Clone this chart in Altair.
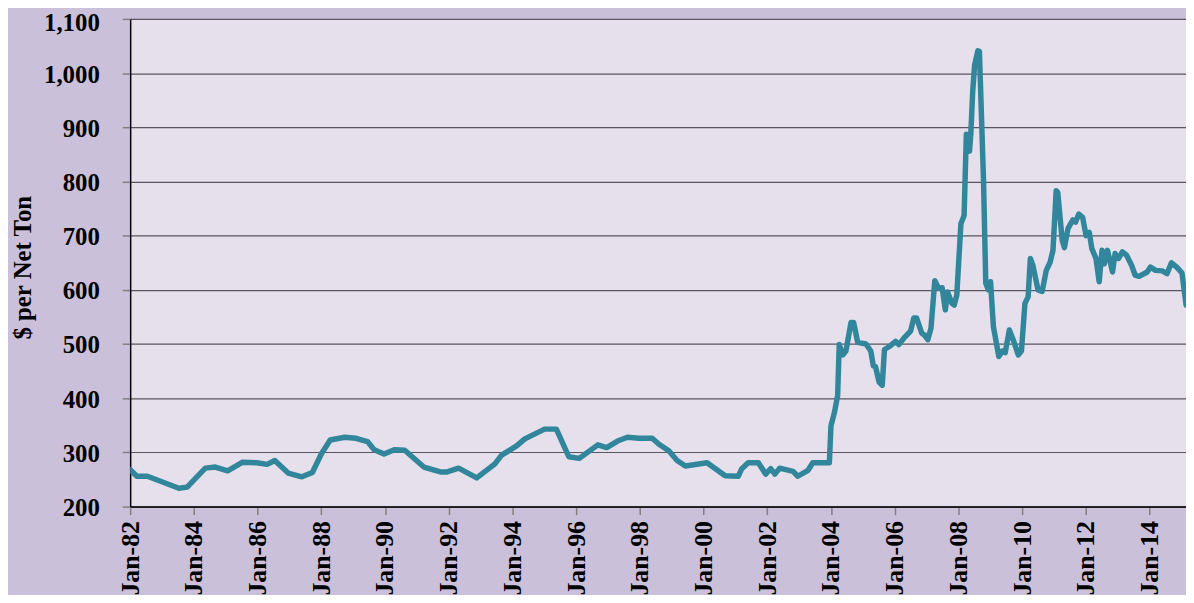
import altair as alt
import pandas as pd

# Decimal year of each vertex (position along the Jan-82 ... Jan-14 axis)
years = [
    1982.00, 1982.21, 1982.54, 1983.53, 1983.79, 1984.05, 1984.36, 1984.67, 1985.06, 1985.53,
    1985.97, 1986.30, 1986.54, 1986.96, 1987.39, 1987.72, 1988.00, 1988.28, 1988.73, 1989.09,
    1989.45, 1989.66, 1989.97, 1990.29, 1990.62, 1991.22, 1991.74, 1991.95, 1992.31, 1992.88,
    1993.45, 1993.66, 1994.13, 1994.39, 1995.01, 1995.38, 1995.77, 1996.10, 1996.68, 1996.96,
    1997.30, 1997.61, 1997.97, 1998.39, 1998.60, 1998.91, 1999.17, 1999.43, 2000.11, 2000.68,
    2001.09, 2001.20, 2001.40, 2001.72, 2001.95, 2002.11, 2002.24, 2002.39, 2002.81, 2002.96,
    2003.28, 2003.43, 2003.95, 2004.00, 2004.11, 2004.21, 2004.26, 2004.37, 2004.47, 2004.63,
    2004.71, 2004.84, 2005.10, 2005.25, 2005.33, 2005.40, 2005.51, 2005.61, 2005.68, 2005.82,
    2006.03, 2006.13, 2006.29, 2006.50, 2006.60, 2006.69, 2006.85, 2006.93, 2007.04, 2007.14,
    2007.26, 2007.38, 2007.49, 2007.59, 2007.66, 2007.80, 2007.87, 2007.95, 2008.08, 2008.18,
    2008.25, 2008.35, 2008.39, 2008.45, 2008.51, 2008.61, 2008.66, 2008.79, 2008.86, 2008.94,
    2009.01, 2009.10, 2009.27, 2009.38, 2009.47, 2009.60, 2009.72, 2009.88, 2009.98, 2010.09,
    2010.19, 2010.26, 2010.34, 2010.50, 2010.63, 2010.76, 2010.88, 2010.97, 2011.07, 2011.12,
    2011.26, 2011.33, 2011.44, 2011.59, 2011.68, 2011.78, 2011.90, 2012.01, 2012.11, 2012.19,
    2012.32, 2012.42, 2012.51, 2012.58, 2012.68, 2012.84, 2012.92, 2013.03, 2013.15, 2013.28,
    2013.44, 2013.55, 2013.67, 2013.93, 2014.03, 2014.19, 2014.40, 2014.55, 2014.69, 2014.87,
    2015.02, 2015.15,
]

# $ per net ton
prices = [
    268, 256, 256, 234, 236, 252, 271, 273, 266, 282,
    281, 278, 285, 262, 255, 263, 297, 323, 328, 326,
    320, 305, 297, 305, 304, 273, 264, 264, 271, 253,
    279, 295, 312, 325, 343, 343, 292, 289, 314, 309,
    321, 328, 326, 326, 315, 303, 285, 275, 281, 257,
    256, 270, 281, 281, 260, 270, 260, 271, 265, 256,
    267, 281, 281, 349, 374, 405, 499, 480, 487, 540,
    540, 503, 500, 487, 460, 458, 430, 424, 490, 495,
    505, 499, 511, 524, 548, 548, 520, 517, 508, 529,
    617, 603, 604, 563, 596, 575, 572, 590, 722, 737,
    887, 856, 887, 966, 1015, 1041, 1040, 801, 612, 600,
    615, 532, 477, 487, 484, 526, 508, 480, 487, 575,
    587, 658, 645, 600, 597, 636, 651, 673, 783, 780,
    691, 678, 713, 729, 725, 740, 734, 700, 706, 676,
    658, 615, 673, 648, 673, 633, 667, 658, 670, 664,
    645, 627, 625, 633, 642, 636, 635, 630, 650, 641,
    631, 572,
]

tick_years = list(range(1982, 2015, 2))
y_ticks = list(range(200, 1101, 100))

df = pd.DataFrame({"year": years, "price": prices})

FONT = "Liberation Serif"

chart = (
    alt.Chart(df)
    .mark_line(color="#31869c", strokeWidth=5.5, strokeJoin="round", strokeCap="round", clip=True)
    .encode(
        x=alt.X(
            "year:Q",
            scale=alt.Scale(domain=[1982, 2015.146], nice=False, zero=False),
            axis=alt.Axis(
                values=tick_years,
                labelExpr="'Jan-' + substring(toString(datum.value), 2, 4)",
                labelAngle=-90,
                labelAlign="right",
                labelBaseline="middle",
                labelPadding=6,
                labelFont=FONT,
                labelFontSize=26,
                labelFontWeight="bold",
                labelColor="#000000",
                labelOverlap=False,
                labelFlush=False,
                grid=False,
                domainColor="#000000",
                domainWidth=1.5,
                tickColor="#808080",
                tickSize=8,
                tickWidth=1.5,
                title=None,
            ),
        ),
        y=alt.Y(
            "price:Q",
            scale=alt.Scale(domain=[200, 1100], nice=False, zero=False),
            axis=alt.Axis(
                values=y_ticks,
                format=",.0f",
                labelFont=FONT,
                labelFontSize=25,
                labelFontWeight="bold",
                labelColor="#000000",
                labelPadding=23,
                labelOffset={"condition": {"test": "datum.value >= 1100", "value": 4}, "value": 1},
                labelFlush=False,
                grid=True,
                gridColor="#5a5561",
                gridWidth=1.2,
                domainColor="#000000",
                domainWidth=1.5,
                tickColor="#808080",
                tickSize=8,
                tickWidth=1.5,
                title="$ per Net Ton",
                titleFont=FONT,
                titleFontSize=25,
                titleFontWeight="bold",
                titleColor="#000000",
                titleAngle=270,
                titleX=-108,
                titleY=250,
                titleAlign="center",
                titleBaseline="middle",
            ),
        ),
    )
    .properties(
        width=1063,
        height=491,
        background="#cbc0d9",
        padding={"left": 123, "top": 9, "right": 0, "bottom": 87},
        autosize=alt.AutoSizeParams(type="none"),
    )
    .configure_view(fill="#e5e0eb", stroke=None)
)

chart.save("out.html", embed_options={"renderer": "svg", "actions": False})
